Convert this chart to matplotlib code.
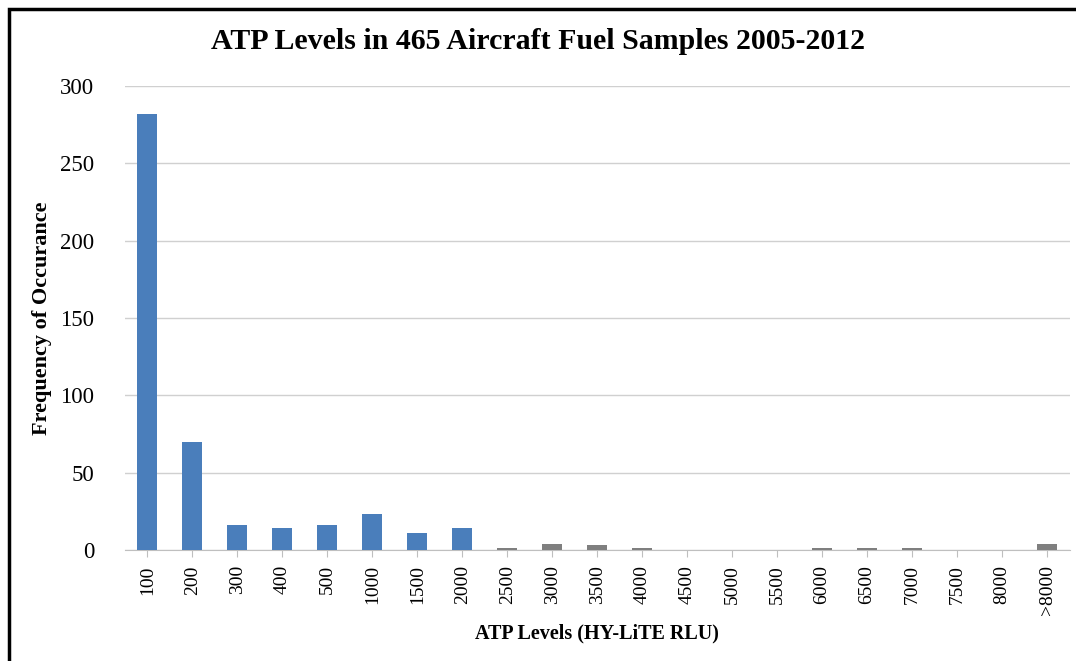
import matplotlib
matplotlib.use('Agg')
import matplotlib.pyplot as plt
from matplotlib.patches import Rectangle

levels = ['100', '200', '300', '400', '500', '1000', '1500', '2000', '2500', '3000',
          '3500', '4000', '4500', '5000', '5500', '6000', '6500', '7000', '7500',
          '8000', '>8000']
counts = [282, 70, 16, 14, 16, 23, 11, 14, 1, 4, 3, 1, 0, 0, 0, 1, 1, 1, 0, 0, 4]
n_blue = 8

plt.rcParams['font.family'] = ['Liberation Serif', 'DejaVu Serif']

fig = plt.figure(figsize=(10.76, 6.61), dpi=100)
ax = fig.add_axes([0.116, 0.168, 0.878, 0.702])

colors = ['#4a7ebb'] * n_blue + ['#7f7f7f'] * (len(levels) - n_blue)
x = range(len(levels))
ax.bar(x, counts, width=0.44, color=colors, zorder=3)

ax.set_xlim(-0.5, len(levels) - 0.5)
ax.set_ylim(0, 300)
ax.set_yticks(range(0, 301, 50))
ax.set_xticks(list(x))
ax.set_xticklabels(levels, rotation=90, fontsize=14)
ax.tick_params(axis='y', labelsize=16.5, length=0, pad=22)
ax.tick_params(axis='x', length=5, color='#bfbfbf', pad=6)
ax.grid(axis='y', color='#d0d0d0', linewidth=1, zorder=0)
for s in ['top', 'right', 'left']:
    ax.spines[s].set_visible(False)
ax.spines['bottom'].set_color('#bfbfbf')

ax.set_ylabel('Frequency of Occurance', fontsize=16, fontweight='bold', labelpad=6)
ax.set_xlabel('ATP Levels (HY-LiTE RLU)', fontsize=14.5, fontweight='bold', labelpad=6)
fig.suptitle('ATP Levels in 465 Aircraft Fuel Samples 2005-2012', fontsize=21.5,
             fontweight='bold', y=0.958)

fig.patches.append(Rectangle((0.008, -0.01), 1.1, 0.997, transform=fig.transFigure,
                             fill=False, edgecolor='black', linewidth=2.5))

fig.savefig('out.png', dpi=100)
